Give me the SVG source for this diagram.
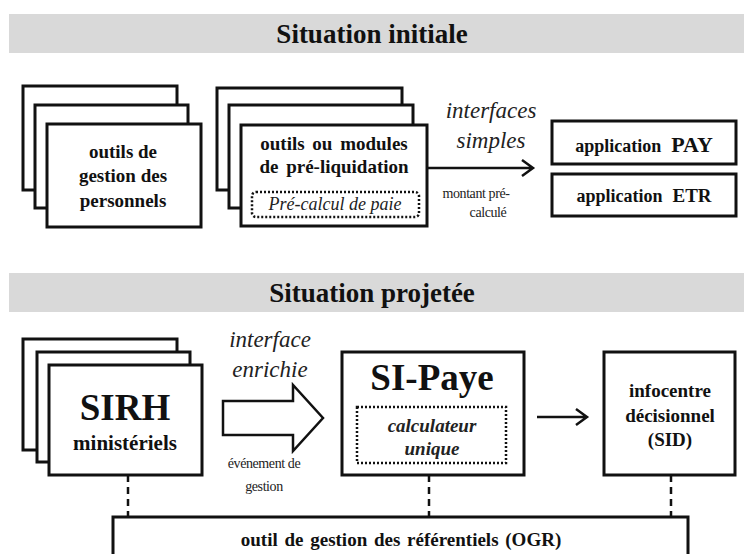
<svg xmlns="http://www.w3.org/2000/svg" width="744" height="554" viewBox="0 0 744 554" font-family="Liberation Serif, DejaVu Serif, serif">
<defs>
<style>
.band{fill:#d9d9d9}
.hd{font-weight:bold;font-size:27px;fill:#111;text-anchor:middle}
.box{fill:#fff;stroke:#111;stroke-width:3}
.dot{fill:none;stroke:#111;stroke-width:2.5;stroke-dasharray:2 2}
.b{font-weight:bold;fill:#111;text-anchor:middle}
.i{font-style:italic;fill:#222;text-anchor:middle}
.s{font-size:14px;fill:#222;text-anchor:middle;letter-spacing:-0.4px}
.ln{fill:none;stroke:#111;stroke-width:2.5}
.dash{fill:none;stroke:#111;stroke-width:2.5;stroke-dasharray:7 5}
</style>
</defs>
<g id="header1"><rect class="band" x="9" y="14" width="735" height="39"/><text class="hd" x="372" y="43">Situation initiale</text></g>
<g id="outils-gestion">
<rect class="box" x="23" y="86" width="154" height="104"/>
<rect class="box" x="35" y="105" width="153" height="103"/>
<rect class="box" x="47" y="124" width="154" height="103"/>
<text class="b" font-size="19" x="123" y="158">outils de</text>
<text class="b" font-size="19" x="123" y="182">gestion des</text>
<text class="b" font-size="19" x="123" y="207">personnels</text>
</g>
<g id="outils-preliquidation">
<rect class="box" x="217" y="88" width="185" height="102"/>
<rect class="box" x="229" y="105" width="184" height="103"/>
<rect class="box" x="241" y="125" width="186" height="101"/>
<text class="b" font-size="19" x="334" y="150" word-spacing="3">outils ou modules</text>
<text class="b" font-size="19" x="334" y="173" word-spacing="3">de pré-liquidation</text>
<rect class="dot" x="252" y="192" width="167" height="25" rx="4"/>
<text class="i" font-size="18" x="335" y="210">Pré-calcul de paie</text>
</g>
<g id="app-pay"><rect class="box" x="552" y="121" width="184" height="43"/><text class="b" x="644" y="152"><tspan font-size="18">application</tspan><tspan font-size="22" dx="10">PAY</tspan></text></g>
<g id="app-etr"><rect class="box" x="552" y="174" width="184" height="42"/><text class="b" x="644" y="202"><tspan font-size="18">application</tspan><tspan font-size="19" dx="10">ETR</tspan></text></g>
<g id="header2"><rect class="band" x="9" y="273" width="735" height="39"/><text class="hd" x="372" y="302">Situation projetée</text></g>
<g id="sirh">
<rect class="box" x="23" y="339" width="154" height="111"/>
<rect class="box" x="37" y="352" width="153" height="110"/>
<rect class="box" x="49" y="365" width="153" height="110"/>
<text class="b" font-size="37" x="125" y="420">SIRH</text>
<text class="b" font-size="21" x="125" y="450">ministériels</text>
</g>
<g id="si-paye">
<rect class="box" x="342" y="352" width="182" height="123"/>
<text class="b" font-size="37" x="432" y="390">SI-Paye</text>
<rect class="dot" x="357" y="407" width="149" height="56"/>
<text class="i" font-weight="bold" font-size="19" x="432" y="432">calculateur</text>
<text class="i" font-weight="bold" font-size="19" x="432" y="455">unique</text>
</g>
<g id="infocentre">
<rect class="box" x="604" y="352" width="131" height="123"/>
<text class="b" font-size="19" x="670" y="397">infocentre</text>
<text class="b" font-size="19" x="670" y="422">décisionnel</text>
<text class="b" font-size="19" x="670" y="446">(SID)</text>
</g>
<g id="ogr">
<rect class="box" x="113" y="517" width="575" height="50"/>
<text class="b" font-size="19" x="401" y="546" word-spacing="2">outil de gestion des référentiels (OGR)</text>
</g>
<g id="connectors">
<path class="ln" d="M427 168 H532 M522 160 L533 168 L522 176"/>
<text class="i" font-size="23" x="491" y="118">interfaces</text>
<text class="i" font-size="23" x="491" y="148">simples</text>
<text class="s" x="476" y="198">montant pré-</text>
<text class="s" x="488" y="217">calculé</text>
<path class="ln" stroke-width="3" d="M223 401 H293 V385 L323 418 L293 451 V435 H223 Z"/>
<text class="i" font-size="23" x="270" y="347">interface</text>
<text class="i" font-size="23" x="270" y="377">enrichie</text>
<text class="s" x="264" y="468">événement de</text>
<text class="s" x="264" y="491">gestion</text>
<path class="ln" d="M537 417 H586 M576 409 L587 417 L576 425"/>
<path class="dash" d="M128 475 V517 M429 475 V517 M671 475 V517"/>
</g>
</svg>
